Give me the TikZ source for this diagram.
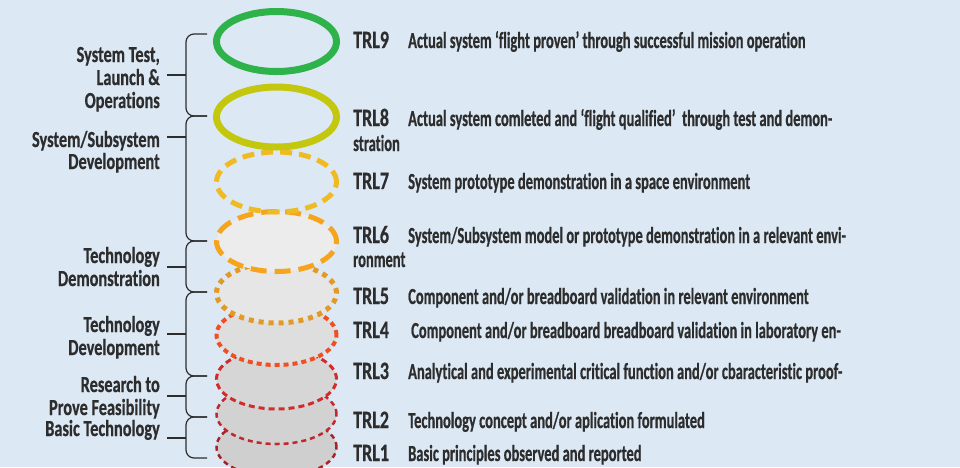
\documentclass[tikz,border=0pt]{standalone}
\usepackage{fontspec}
\usetikzlibrary{shapes.geometric}
\newfontfamily\descfont{Carlito}[FakeStretch=0.63,FakeBold=0.6,RawFeature=-liga]
\newfontfamily\trlfont{Carlito}[FakeStretch=0.72,FakeBold=0.6,RawFeature=-liga]
\newfontfamily\stagefont{Carlito}[FakeStretch=0.71,FakeBold=0.6,RawFeature=-liga]
\definecolor{bgblue}{RGB}{220,233,245}
\definecolor{ink}{RGB}{45,45,45}
\definecolor{cnine}{RGB}{46,179,74}
\definecolor{ceight}{RGB}{195,200,14}
\definecolor{cseven}{RGB}{240,187,34}
\definecolor{csix}{RGB}{247,164,29}
\definecolor{cfive}{RGB}{226,154,38}
\definecolor{cfour}{RGB}{240,78,35}
\definecolor{cthree}{RGB}{212,42,42}
\definecolor{ctwo}{RGB}{193,39,45}
\definecolor{cone}{RGB}{168,34,42}
\tikzset{
  ring/.style={ellipse, minimum width=120pt, minimum height=60pt, inner sep=0pt},
  trl/.style={anchor=base west, inner sep=0pt, text=ink, font=\trlfont\bfseries\fontsize{25pt}{25pt}\selectfont},
  desc/.style={anchor=base west, inner sep=0pt, text=ink, font=\descfont\bfseries\fontsize{23pt}{23pt}\selectfont},
  stage/.style={anchor=base east, inner sep=0pt, text=ink, font=\stagefont\bfseries\fontsize{23pt}{23pt}\selectfont},
  bracket/.style={draw=ink, line width=1.2pt, rounded corners=8pt},
  tick/.style={draw=ink, line width=1.2pt}
}
\begin{document}
\begin{tikzpicture}[x=1pt,y=-1pt]
\fill[bgblue] (0,0) rectangle (960,467);
\useasboundingbox (0,0) rectangle (960,467);

% stacked readiness rings, lowest level first so higher ones overlap it
\node[ring, fill={rgb,255:red,207;green,207;blue,207}, draw=cone, line width=2.5pt, dash pattern=on 5pt off 4pt] (r1) at (276.5,447) {};
\node[ring, fill={rgb,255:red,210;green,210;blue,210}, draw=ctwo, line width=2.5pt, dash pattern=on 5pt off 4pt] (r2) at (276.5,414) {};
\node[ring, fill={rgb,255:red,214;green,214;blue,214}, draw=cthree, line width=3pt, dash pattern=on 6pt off 4pt] (r3) at (276.5,379) {};
\node[ring, fill={rgb,255:red,222;green,222;blue,222}, draw=cfour, line width=4pt, dash pattern=on 5pt off 4pt] (r4) at (276.5,335) {};
\node[ring, fill={rgb,255:red,230;green,230;blue,230}, draw=cfive, line width=5pt, dash pattern=on 5pt off 5pt] (r5) at (276.5,293) {};
\node[ring, fill={rgb,255:red,236;green,236;blue,236}, draw=csix, line width=5pt, dash pattern=on 16pt off 8pt] (r6) at (276.5,241.5) {};
\node[ring, draw=cseven, line width=5pt, dash pattern=on 12pt off 7pt] (r7) at (276.5,182) {};
\node[ring, draw=ceight, line width=7pt] (r8) at (276.5,117) {};
\node[ring, draw=cnine, line width=7pt] (r9) at (276.5,41.5) {};

% level numbers
\node[trl] (l9) at (353,48) {TRL9};
\node[trl] (l8) at (353,126) {TRL8};
\node[trl] (l7) at (353,189) {TRL7};
\node[trl] (l6) at (353,243) {TRL6};
\node[trl] (l5) at (353,304) {TRL5};
\node[trl] (l4) at (353,338) {TRL4};
\node[trl] (l3) at (353,379) {TRL3};
\node[trl] (l2) at (353,428) {TRL2};
\node[trl] (l1) at (353,461) {TRL1};

% level descriptions
\node[desc] (d9) at (408,48) {Actual system ‘flight proven’ through successful mission operation};
\node[desc] (d8) at (408,126) {Actual system comleted and ‘flight qualified’\ \ through test and demon-};
\node[desc] (d8b) at (353,151) {stration};
\node[desc] (d7) at (408,189) {System prototype demonstration in a space environment};
\node[desc] (d6) at (408,243) {System/Subsystem model or prototype demonstration in a relevant envi-};
\node[desc] (d6b) at (353,267) {ronment};
\node[desc] (d5) at (408,304) {Component and/or breadboard validation in relevant environment};
\node[desc] (d4) at (411,338) {Component and/or breadboard breadboard validation in laboratory en-};
\node[desc] (d3) at (408,379) {Analytical and experimental critical function and/or cbaracteristic proof-};
\node[desc] (d2) at (408,428) {Technology concept and/or aplication formulated};
\node[desc] (d1) at (408,461) {Basic principles observed and reported};

% phase names
\node[stage] (s1a) at (160,62) {System Test,};
\node[stage] (s1b) at (160,85) {Launch \&};
\node[stage] (s1c) at (160,108) {Operations};
\node[stage] (s2a) at (160,147) {System/Subsystem};
\node[stage] (s2b) at (160,169) {Development};
\node[stage] (s3a) at (160,263) {Technology};
\node[stage] (s3b) at (160,286) {Demonstration};
\node[stage] (s4a) at (160,332) {Technology};
\node[stage] (s4b) at (160,355) {Development};
\node[stage] (s5a) at (160,392) {Research to};
\node[stage] (s5b) at (160,415) {Prove Feasibility};
\node[stage] (s6a) at (160,436) {Basic Technology};

% bracket end points and ticks
\foreach \n/\y in {a/34,b/116,c/241,d/292,e/376,f/417,g/458}{
  \coordinate (e\n) at (207,\y);
  \coordinate (v\n) at (186,\y);
}
\foreach \n/\y in {1/75,2/137,3/267,4/334,5/396,6/438}{
  \coordinate (m\n) at (186,\y);
  \coordinate (k\n) at (167,\y);
}
\draw[bracket] (ea) -- (va) -- (vb) -- (eb);
\draw[bracket] (eb) -- (vb) -- (vc) -- (ec);
\draw[bracket] (ec) -- (vc) -- (vd) -- (ed);
\draw[bracket] (ed) -- (vd) -- (ve) -- (ee);
\draw[bracket] (ee) -- (ve) -- (vf) -- (ef);
\draw[bracket] (ef) -- (vf) -- (vg) -- (eg);
\foreach \i in {1,...,6}{\draw[tick] (k\i) -- (m\i);}
\end{tikzpicture}
\end{document}
